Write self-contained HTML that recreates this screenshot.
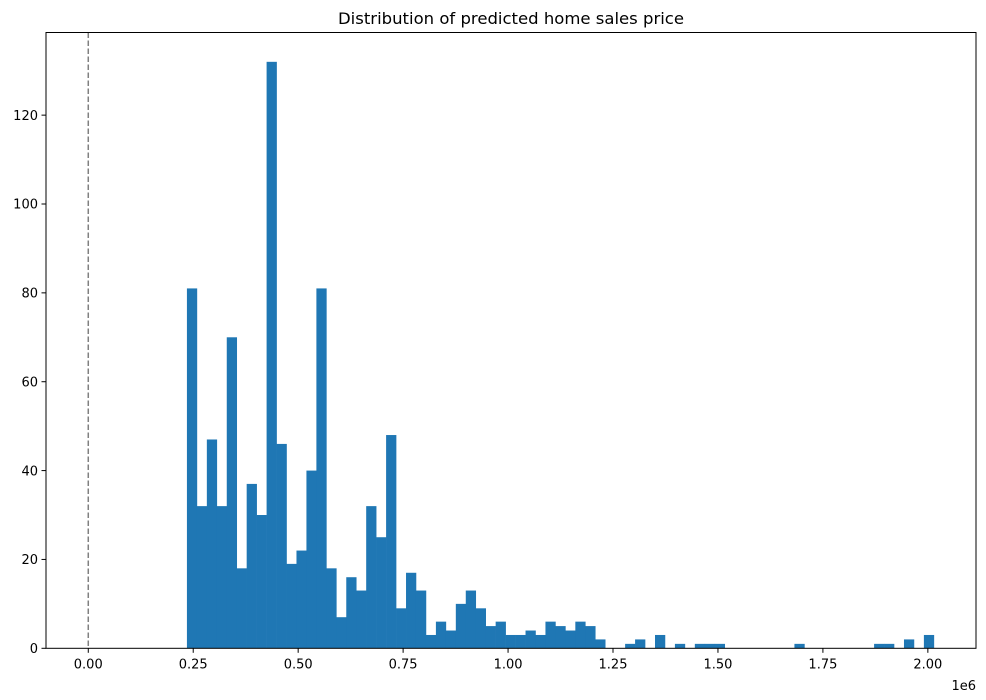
<!DOCTYPE html>
<html><head><meta charset="utf-8"><style>
html,body{margin:0;padding:0;background:#fff;}
svg{display:block;font-family:"DejaVu Sans","Liberation Sans",sans-serif;}
</style></head><body>
<svg id="chart" width="986" height="700" viewBox="0 0 986 700" xmlns="http://www.w3.org/2000/svg">
<text x="511" y="24" text-anchor="middle" font-size="16" textLength="346" lengthAdjust="spacingAndGlyphs">Distribution of predicted home sales price</text>
<g id="bars"></g>
<line id="zline" stroke="#808080" stroke-width="1.5" stroke-dasharray="5.5,2.5"></line>
<rect x="46" y="32.5" width="930" height="615.8" fill="none" stroke="#000" stroke-width="1"></rect>
<g id="xticks"></g>
<g id="yticks"></g>
<text x="976" y="690" text-anchor="end" font-size="13">1e6</text>
</svg>
<script>
const counts = [81,32,47,32,70,18,37,30,132,46,19,22,40,81,18,7,16,13,32,25,48,9,17,13,3,
6,4,10,13,9,5,6,3,3,4,3,6,5,4,6,5,2,0,0,1,2,0,3,0,1,0,1,1,1,
0,0,0,0,0,0,0,1,0,0,0,0,0,0,0,1,1,0,2,0,3];
const binMin = 0.235;
const binMax = 2.0143;
const xTickLabels = ["0.00","0.25","0.50","0.75","1.00","1.25","1.50","1.75","2.00"];
const xTickValues = [0,0.25,0.5,0.75,1.0,1.25,1.5,1.75,2.0];
const yTickValues = [0,20,40,60,80,100,120];

const L=46,R=976,T=32.5,B=648.3;
const xMin=-0.1007,xMax=2.1147;
const yMax=138.6;
const xs=v=>L+(v-xMin)/(xMax-xMin)*(R-L);
const ys=v=>B-v/yMax*(B-T);
const NS="http://www.w3.org/2000/svg";
const mk=(tag,attrs)=>{const e=document.createElementNS(NS,tag);for(const k in attrs)e.setAttribute(k,attrs[k]);return e;};

const bars=document.getElementById('bars');
const bw=(binMax-binMin)/counts.length;
counts.forEach((c,i)=>{
  if(c<=0)return;
  const x0=xs(binMin+i*bw),x1=xs(binMin+(i+1)*bw);
  const r=mk('rect',{x:x0,y:ys(c),width:x1-x0+0.3,height:B-ys(c),fill:'#1f77b4'});
  
  
  bars.appendChild(r);
});

const z=document.getElementById('zline');
z.setAttribute('x1',xs(0));z.setAttribute('x2',xs(0));
z.setAttribute('y1',T);z.setAttribute('y2',B);

const xt=document.getElementById('xticks');
xTickValues.forEach((v,i)=>{
  const x=xs(v);
  const t=mk('line',{x1:x,x2:x,y1:B,y2:B+4.5,stroke:'#000','stroke-width':1});
  
  
  xt.appendChild(t);
  const l=mk('text',{x:x,y:B+20,'text-anchor':'middle','font-size':13});
  
  
  l.textContent=xTickLabels[i];
  xt.appendChild(l);
});
const yt=document.getElementById('yticks');
yTickValues.forEach(v=>{
  const y=ys(v);
  const t=mk('line',{x1:L-4.5,x2:L,y1:y,y2:y,stroke:'#000','stroke-width':1});
  
  
  yt.appendChild(t);
  const l=mk('text',{x:L-8,y:y+4.7,'text-anchor':'end','font-size':13});
  
  
  l.textContent=String(v);
  yt.appendChild(l);
});
</script>
</body></html>
